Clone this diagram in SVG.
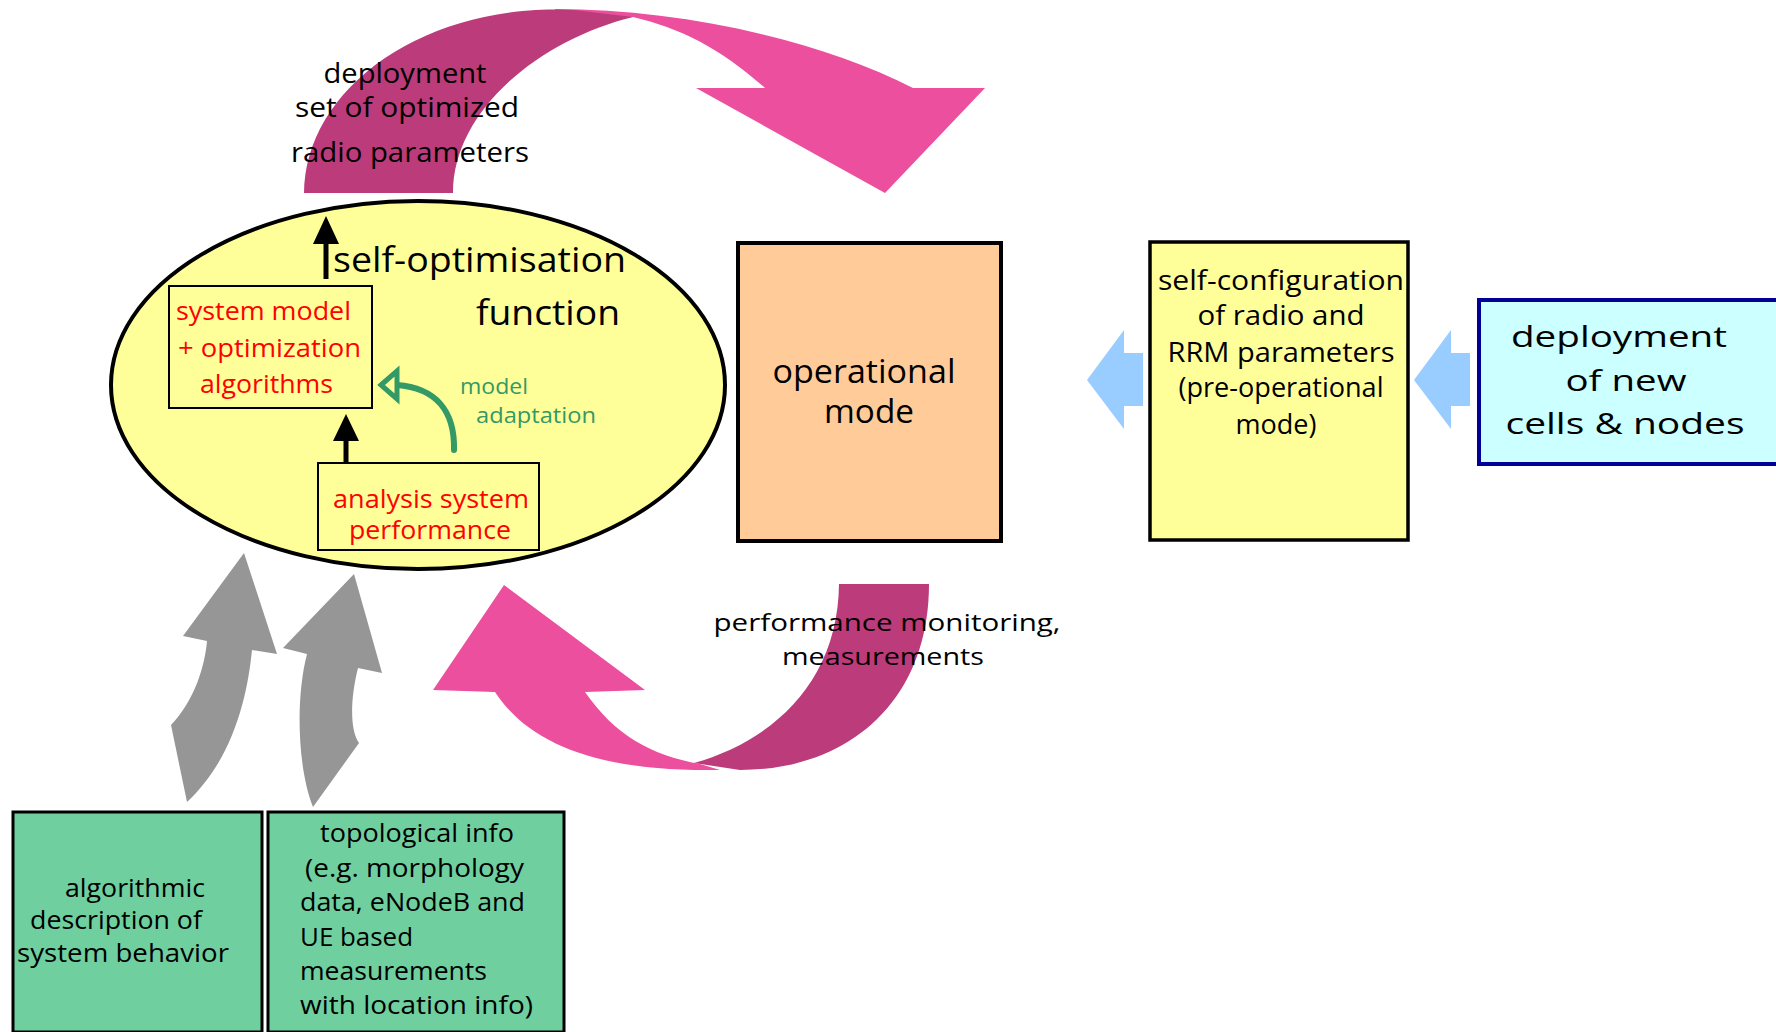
<svg xmlns="http://www.w3.org/2000/svg" width="1776" height="1032" viewBox="0 0 1776 1032">
<style>
text{font-family:"Open Sans","Noto Sans","DejaVu Sans",sans-serif;fill:#000}
.red{fill:#FF0000;font-size:25px}
.teal{fill:#339966;font-size:22.5px}
.pink{fill:#EC4F9D}
.dark{fill:#BC3B7A}
.gray{fill:#969696}
.blue{fill:#99CCFF}
.mid{text-anchor:middle}
</style>
<rect width="1776" height="1032" fill="#fff"/>
<g id="connectors">
  <g id="top-arrow">
    <path class="pink" d="M555,9 C680,9 820,40 913,88 L985,88 L885,193 L696,88 L765,88 C720,48 680,28 633,17 L560,25 Z"/>
    <path class="dark" d="M304,193 A251,184 0 0 1 574,10 L633,17 C540,40 453,110 453,193 Z"/>
  </g>
  <g id="bottom-arrow">
    <path class="pink" d="M504,585 L645,690 L585,692 C615,735 650,755 700,764 L720,770 C600,772 530,745 495,692 L433,690 Z"/>
    <path class="dark" d="M839,584 L929,584 C929,700 850,770 740,770 L694,763 C775,740 838,680 839,584 Z"/>
  </g>
  <path class="gray" d="M244,553 L277,654 L252,650 C247,700 232,760 187,802 L171,725 C195,700 205,665 207,641 L183,636 Z"/>
  <path class="gray" d="M354,574 L382,673 L358,668 C350,700 350,730 359,743 L313,807 C298,770 295,700 307,654 L283,648 Z"/>
  <path class="blue" d="M1087,380 L1124,330 L1124,353 L1143,353 L1143,406 L1124,406 L1124,429 Z"/>
  <path class="blue" d="M1414,380 L1451,330 L1451,353 L1470,353 L1470,406 L1451,406 L1451,429 Z"/>
</g>
<g id="top-label" font-size="27">
  <text x="405" y="83" class="mid" textLength="163" lengthAdjust="spacingAndGlyphs">deployment</text>
  <text x="407" y="117" class="mid" textLength="224" lengthAdjust="spacingAndGlyphs">set of optimized</text>
  <text x="410" y="162" class="mid" textLength="238" lengthAdjust="spacingAndGlyphs">radio parameters</text>
</g>
<g id="bottom-label" font-size="24">
  <text x="887" y="631" class="mid" textLength="347" lengthAdjust="spacingAndGlyphs">performance monitoring,</text>
  <text x="883" y="665" class="mid" textLength="202" lengthAdjust="spacingAndGlyphs">measurements</text>
</g>
<g id="self-optimisation">
  <ellipse cx="418" cy="385" rx="307" ry="184" fill="#FFFF99" stroke="#000" stroke-width="4"/>
  <text x="333" y="272" font-size="34" textLength="293" lengthAdjust="spacingAndGlyphs">self-optimisation</text>
  <text x="476" y="325" font-size="35" textLength="144" lengthAdjust="spacingAndGlyphs">function</text>
  <line x1="326" y1="279" x2="326" y2="238" stroke="#000" stroke-width="5"/>
  <polygon points="326,216 313,244 339,244" fill="#000"/>
</g>
<g id="system-model">
  <rect x="169" y="286" width="203" height="122" fill="#FFFF99" stroke="#000" stroke-width="2"/>
  <text x="176" y="320" class="red" textLength="175" lengthAdjust="spacingAndGlyphs">system model</text>
  <text x="178" y="357" class="red" textLength="183" lengthAdjust="spacingAndGlyphs">+ optimization</text>
  <text x="200" y="393" class="red" textLength="133" lengthAdjust="spacingAndGlyphs">algorithms</text>
</g>
<g id="analysis">
  <rect x="318" y="463" width="221" height="87" fill="#FFFF99" stroke="#000" stroke-width="2"/>
  <text x="431" y="508" class="red mid" textLength="196" lengthAdjust="spacingAndGlyphs">analysis system</text>
  <text x="430" y="539" class="red mid" textLength="162" lengthAdjust="spacingAndGlyphs">performance</text>
</g>
<g id="inner-connectors">
  <line x1="346" y1="463" x2="346" y2="436" stroke="#000" stroke-width="5"/>
  <polygon points="346,414 333,441 359,441" fill="#000"/>
  <path d="M454,450 C455,410 435,388 397,385" fill="none" stroke="#339966" stroke-width="6" stroke-linecap="round"/>
  <polygon points="381,385 397,371 397,399" fill="#FFFF99" stroke="#339966" stroke-width="5" stroke-linejoin="miter"/>
  <text x="460" y="394" class="teal" textLength="68" lengthAdjust="spacingAndGlyphs">model</text>
  <text x="476" y="423" class="teal" textLength="120" lengthAdjust="spacingAndGlyphs">adaptation</text>
</g>
<g id="operational-mode">
  <rect x="738" y="243" width="263" height="298" fill="#FFCC99" stroke="#000" stroke-width="4"/>
  <text x="864" y="383" class="mid" font-size="32" textLength="183" lengthAdjust="spacingAndGlyphs">operational</text>
  <text x="869" y="423" class="mid" font-size="32" textLength="90" lengthAdjust="spacingAndGlyphs">mode</text>
</g>
<g id="self-configuration" font-size="27">
  <rect x="1150" y="242" width="258" height="298" fill="#FFFF99" stroke="#000" stroke-width="3.5"/>
  <text x="1281" y="290" class="mid" textLength="246" lengthAdjust="spacingAndGlyphs">self-configuration</text>
  <text x="1281" y="325" class="mid" textLength="167" lengthAdjust="spacingAndGlyphs">of radio and</text>
  <text x="1281" y="362" class="mid" textLength="227" lengthAdjust="spacingAndGlyphs">RRM parameters</text>
  <text x="1281" y="397" class="mid" textLength="205" lengthAdjust="spacingAndGlyphs">(pre-operational</text>
  <text x="1276" y="434" class="mid" textLength="81" lengthAdjust="spacingAndGlyphs">mode)</text>
</g>
<g id="deployment-new" font-size="30">
  <rect x="1479" y="300" width="300" height="164" fill="#CCFFFF" stroke="#000099" stroke-width="4"/>
  <text x="1619" y="347" class="mid" textLength="216" lengthAdjust="spacingAndGlyphs">deployment</text>
  <text x="1626" y="391" class="mid" textLength="121" lengthAdjust="spacingAndGlyphs">of new</text>
  <text x="1625" y="434" class="mid" textLength="239" lengthAdjust="spacingAndGlyphs">cells &amp; nodes</text>
</g>
<g id="algorithmic" font-size="25">
  <rect x="13" y="812" width="249" height="220" fill="#6FCF9F" stroke="#000" stroke-width="3"/>
  <text x="135" y="897" class="mid" textLength="140" lengthAdjust="spacingAndGlyphs">algorithmic</text>
  <text x="116" y="929" class="mid" textLength="172" lengthAdjust="spacingAndGlyphs">description of</text>
  <text x="123" y="962" class="mid" textLength="212" lengthAdjust="spacingAndGlyphs">system behavior</text>
</g>
<g id="topological" font-size="25">
  <rect x="268" y="812" width="296" height="220" fill="#6FCF9F" stroke="#000" stroke-width="3"/>
  <text x="417" y="842" class="mid" textLength="194" lengthAdjust="spacingAndGlyphs">topological info</text>
  <text x="305" y="877" textLength="219" lengthAdjust="spacingAndGlyphs">(e.g. morphology</text>
  <text x="300" y="911" textLength="225" lengthAdjust="spacingAndGlyphs">data, eNodeB and</text>
  <text x="300" y="946" textLength="113" lengthAdjust="spacingAndGlyphs">UE based</text>
  <text x="300" y="980" textLength="187" lengthAdjust="spacingAndGlyphs">measurements</text>
  <text x="300" y="1014" textLength="233" lengthAdjust="spacingAndGlyphs">with location info)</text>
</g>
</svg>
